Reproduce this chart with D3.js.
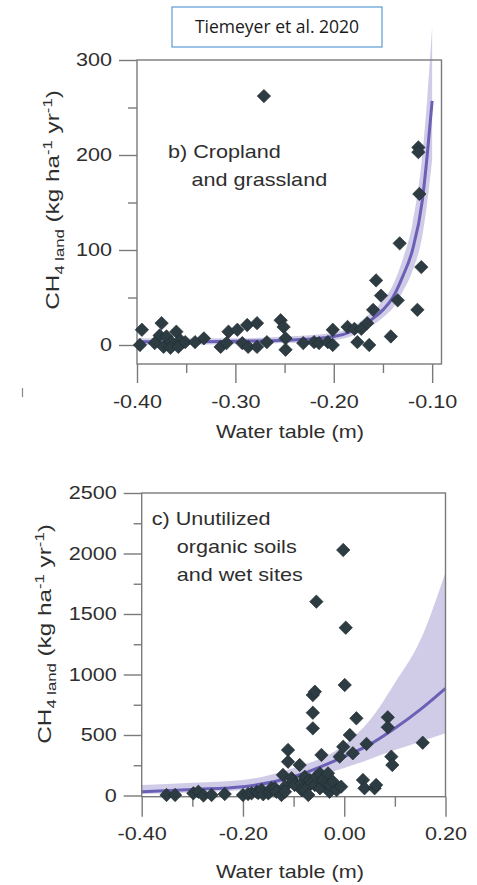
<!DOCTYPE html>
<html><head><meta charset="utf-8">
<script src="https://cdn.jsdelivr.net/npm/d3@7"></script>
<style>body{margin:0;background:#fff}svg{display:block}</style>
</head><body>
<script>
// ---------- DATA ----------
// Panel b) Cropland and grassland
const topWT  = [-0.395,-0.397,-0.375,-0.377,-0.382,-0.373,-0.370,-0.365,-0.366,-0.360,-0.356,-0.358,-0.351,-0.341,-0.332,-0.315,-0.307,-0.309,-0.298,-0.288,-0.278,-0.293,-0.287,-0.278,-0.268,-0.254,-0.251,-0.249,-0.249,-0.231,-0.220,-0.215,-0.206,-0.201,-0.201,-0.186,-0.179,-0.172,-0.166,-0.160,-0.176,-0.164,-0.152,-0.157,-0.142,-0.135,-0.133,-0.115,-0.111,-0.113,-0.114,-0.114,-0.271];
const topCH4 = [16,0,23,10,2,-2,9,3,-3,14,5,-2,3,3,7,-2,14,2,16,21,23,2,-2,-2,3,26,19,7,-5,2,3,2,3,16,0,19,17,17,23,37,3,0,52,68,9,47,107,37,82,159,208,203,262];
const topFitWT  = [-0.40,-0.35,-0.30,-0.25,-0.20,-0.18,-0.16,-0.15,-0.14,-0.13,-0.12,-0.11,-0.105,-0.10];
const topFitMid = [3.5,3.5,4,5,9,15,28,37,50,72,100,152,200,257];
const topFitLo  = [0,0,1,2,5,10,21,29,39,56,78,115,150,195];
const topFitHi  = [7,7,7,9,13,20,36,47,63,90,128,200,260,335];
const topXMajor = [-0.40,-0.30,-0.20,-0.10];
const topXLabels = ["-0.40","-0.30","-0.20","-0.10"];
const topXMinor = [-0.35,-0.25,-0.15];
const topYMajor = [0,100,200,300];
const topYLabels = ["0","100","200","300"];
const topYMinor = [50,150,250];

// Panel c) Unutilized organic soils and wet sites
const botWT  = [-0.351,-0.334,-0.298,-0.288,-0.278,-0.262,-0.236,-0.200,-0.190,-0.183,-0.173,-0.170,-0.163,-0.160,-0.150,-0.147,-0.144,-0.137,-0.134,-0.124,-0.121,-0.117,-0.117,-0.111,-0.111,-0.104,-0.101,-0.098,-0.088,-0.084,-0.084,-0.078,-0.078,-0.071,-0.068,-0.065,-0.062,-0.058,-0.062,-0.062,-0.058,-0.055,-0.055,-0.048,-0.048,-0.045,-0.042,-0.035,-0.032,-0.029,-0.029,-0.022,-0.015,-0.009,-0.006,-0.002,-0.002,0.001,0.003,0.011,0.017,0.024,0.037,0.040,0.044,0.060,0.063,0.086,0.086,0.093,0.095,0.155];
const botCH4 = [4,4,18,31,0,4,12,4,12,18,31,20,45,10,18,31,60,60,31,4,170,73,31,376,279,142,114,87,252,101,45,155,45,4,128,101,830,858,684,555,87,155,1602,183,60,335,128,101,183,31,87,114,45,321,73,403,2029,913,1387,500,349,638,128,60,426,60,87,646,564,321,252,436];
const botFitWT  = [-0.40,-0.30,-0.20,-0.10,0.00,0.05,0.10,0.15,0.20];
const botFitMid = [31,50,73,155,321,420,555,710,886];
const botFitLo  = [12,25,45,114,227,300,376,445,515];
const botFitHi  = [87,105,128,227,420,620,930,1280,1845];
const botXMajor = [-0.40,-0.20,0.00,0.20];
const botXLabels = ["-0.40","-0.20","0.00","0.20"];
const botXMinor = [-0.30,-0.10,0.10];
const botYMajor = [0,500,1000,1500,2000,2500];
const botYLabels = ["0","500","1000","1500","2000","2500"];
const botYMinor = [250,750,1250,1750,2250];

// ---------- DRAW ----------
const W = 477, H = 885;
const svg = d3.select("body").append("svg").attr("width", W).attr("height", H);
const FONT = "'Liberation Sans', Arial, sans-serif";
const SX = 1.2;           // horizontal stretch of the original figure text
const TXT = "#2e2e2e";
const FRAME = "#7a7a7a";
const PTFILL = "#2c3c42";
const LINEC = "#6a60b6";
const BANDC = "#cdc9e6";

// title box
svg.append("rect").attr("x", 172).attr("y", 7).attr("width", 210).attr("height", 40)
  .attr("fill", "#fff").attr("stroke", "#5b9bd5").attr("stroke-width", 1.2);
svg.append("text").attr("x", 277).attr("y", 33).attr("text-anchor", "middle")
  .attr("font-family", "'Open Sans', sans-serif").attr("font-size", 17.5).attr("fill", "#1a1a1a")
  .text("Tiemeyer et al. 2020");

// stray mark at left
svg.append("line").attr("x1", 22.5).attr("x2", 22.5).attr("y1", 388).attr("y2", 397)
  .attr("stroke", "#888").attr("stroke-width", 1.2);

function stext(g, x, y, str, anchor, size) {
  return g.append("g").attr("transform", `translate(${x},${y}) scale(${SX},1)`)
    .append("text").attr("text-anchor", anchor || "start")
    .attr("font-family", FONT).attr("font-size", size || 18).attr("fill", TXT).text(str);
}

function yLabel(g, cx, cy) {
  const t = g.append("g").attr("transform", `translate(${cx},${cy}) rotate(-90) scale(1.28,1)`)
    .append("text").attr("text-anchor", "middle").attr("font-family", FONT)
    .attr("font-size", 19).attr("fill", TXT);
  t.append("tspan").text("CH");
  t.append("tspan").attr("font-size", 13).attr("dy", 5).text("4 land");
  t.append("tspan").attr("dy", -5).text(" (kg ha");
  t.append("tspan").attr("font-size", 13).attr("dy", -7).text("-1");
  t.append("tspan").attr("dy", 7).text(" yr");
  t.append("tspan").attr("font-size", 13).attr("dy", -7).text("-1");
  t.append("tspan").attr("dy", 7).text(")");
}

function panel(c) {
  const g = svg.append("g");
  const x = d3.scaleLinear().domain(c.xDom).range(c.xRange);
  const y = d3.scaleLinear().domain(c.yDom).range(c.yRange);
  const [x0, x1] = c.xRange, [y1, y0] = c.yRange; // y1 bottom, y0 top

  // band + fit line
  const fit = c.fitWT.map((w, i) => ({w, m: c.fitMid[i], lo: c.fitLo[i], hi: c.fitHi[i]}));
  g.append("path").datum(fit).attr("fill", BANDC).attr("opacity", 0.95)
    .attr("d", d3.area().curve(d3.curveMonotoneX).x(d => x(d.w)).y0(d => y(d.lo)).y1(d => y(d.hi)));
  g.append("path").datum(fit).attr("fill", "none").attr("stroke", LINEC).attr("stroke-width", 3)
    .attr("d", d3.line().curve(d3.curveMonotoneX).x(d => x(d.w)).y(d => y(d.m)));

  // frame
  g.append("rect").attr("x", x0).attr("y", y0).attr("width", x1 - x0).attr("height", y1 - y0)
    .attr("fill", "none").attr("stroke", FRAME).attr("stroke-width", 1.4);

  // axes
  function styleAxis(sel) {
    sel.select(".domain").remove();
    sel.selectAll(".tick line").attr("stroke", FRAME).attr("stroke-width", 1.4);
  }
  const xa = g.append("g").attr("transform", `translate(0,${y1})`)
    .call(d3.axisBottom(x).tickValues(c.xMajor).tickSize(c.xMajLen).tickPadding(c.xPad)
      .tickFormat((d, i) => c.xLabels[i]));
  styleAxis(xa);
  xa.selectAll(".tick text").attr("font-family", FONT).attr("font-size", 18).attr("fill", TXT)
    .attr("transform", `scale(${SX},1)`);
  const xm = g.append("g").attr("transform", `translate(0,${y1})`)
    .call(d3.axisBottom(x).tickValues(c.xMinor).tickSize(c.xMinLen).tickFormat(""));
  styleAxis(xm);

  const ya = g.append("g").attr("transform", `translate(${x0},0)`)
    .call(d3.axisLeft(y).tickValues(c.yMajor).tickSize(18).tickPadding(c.yPad)
      .tickFormat((d, i) => c.yLabels[i]));
  styleAxis(ya);
  ya.selectAll(".tick text").attr("font-family", FONT).attr("font-size", 18).attr("fill", TXT)
    .each(function() {
      const t = d3.select(this); const xx = +t.attr("x");
      t.attr("x", xx / SX).attr("transform", `scale(${SX},1)`);
    });
  const ym = g.append("g").attr("transform", `translate(${x0},0)`)
    .call(d3.axisLeft(y).tickValues(c.yMinor).tickSize(c.yMinLen).tickFormat(""));
  styleAxis(ym);

  // points
  const sym = d3.symbol().type(d3.symbolSquare).size(90);
  g.append("g").selectAll("path").data(c.wt.map((w, i) => [w, c.ch4[i]])).join("path")
    .attr("d", sym)
    .attr("transform", d => `translate(${x(d[0])},${y(d[1])}) rotate(45)`)
    .attr("fill", PTFILL).attr("stroke", "#1f2b2f").attr("stroke-width", 0.6);

  // texts
  c.note.forEach((s, i) => stext(g, c.noteX[i], c.noteY[i], s, "start", 18));
  stext(g, c.xTitleX, c.xTitleY, "Water table (m)", "middle", 18);
  yLabel(g, c.yTitleX, c.yTitleY);
}

panel({
  xDom: [-0.40, -0.0905], xRange: [137, 441.5],
  yDom: [-20, 300], yRange: [364, 60],
  wt: topWT, ch4: topCH4,
  fitWT: topFitWT, fitMid: topFitMid, fitLo: topFitLo, fitHi: topFitHi,
  xMajor: topXMajor, xLabels: topXLabels, xMinor: topXMinor,
  yMajor: topYMajor, yLabels: topYLabels, yMinor: topYMinor,
  xMajLen: 19, xMinLen: 9, xPad: 12, yPad: 7, yMinLen: 9,
  note: ["b) Cropland", "and grassland"], noteX: [168, 191.5], noteY: [158, 186],
  xTitleX: 290, xTitleY: 438, yTitleX: 59, yTitleY: 200
});

panel({
  xDom: [-0.40, 0.20], xRange: [141.7, 445.5],
  yDom: [-10, 2500], yRange: [796.7, 493],
  wt: botWT, ch4: botCH4,
  fitWT: botFitWT, fitMid: botFitMid, fitLo: botFitLo, fitHi: botFitHi,
  xMajor: botXMajor, xLabels: botXLabels, xMinor: botXMinor,
  yMajor: botYMajor, yLabels: botYLabels, yMinor: botYMinor,
  xMajLen: 20, xMinLen: 10, xPad: 11, yPad: 7, yMinLen: 8,
  note: ["c) Unutilized", "organic soils", "and wet sites"],
  noteX: [151.7, 176.7, 176.7], noteY: [525, 553, 580.5],
  xTitleX: 290, xTitleY: 878, yTitleX: 51, yTitleY: 634
});
</script>
</body></html>
